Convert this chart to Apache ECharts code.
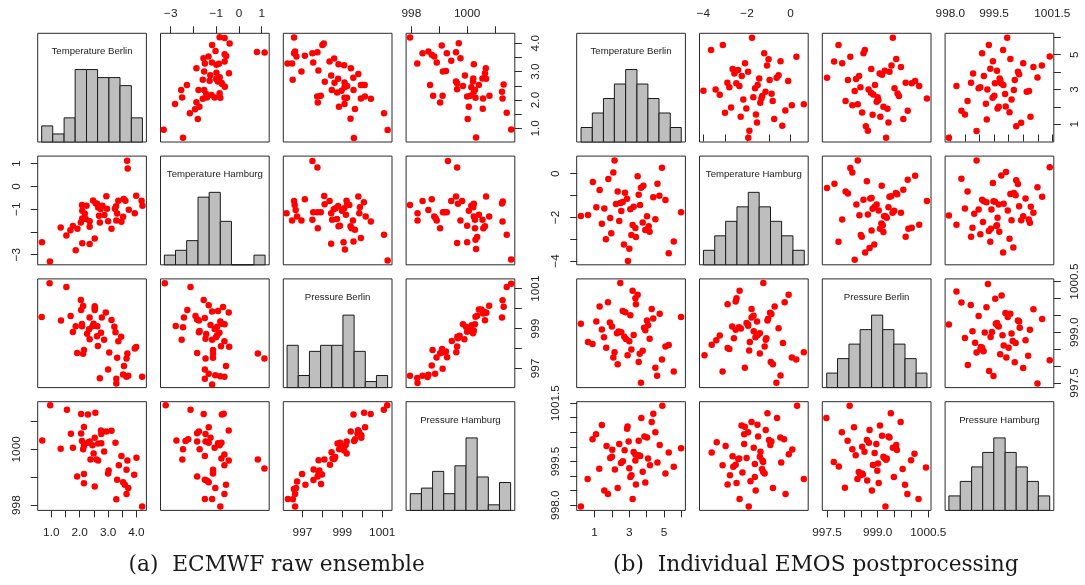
<!DOCTYPE html>
<html>
<head>
<meta charset="utf-8">
<script src="https://cdn.jsdelivr.net/npm/echarts@6/dist/echarts.min.js"></script>
<style>
html,body{margin:0;padding:0;background:#fff;}
#c{width:1085px;height:585px;}
</style>
</head>
<body>
<div id="c"></div>
<script>
// ---------- Variables ----------
const varNames = ['Temperature Berlin', 'Temperature Hamburg', 'Pressure Berlin', 'Pressure Hamburg'];
const captionA = '(a)  ECMWF raw ensemble';
const captionB = '(b)  Individual EMOS postprocessing';

// ---------- (a) ECMWF raw ensemble : scatter pairs [x, y] ----------
// x = Temperature Hamburg, y = Temperature Berlin
const a_TH_TB = [[-0.85,4.21],[-1.18,3.94],[-0.41,3.99],[-0.63,4.18],[-1.03,3.73],[-1.34,3.53],[-1.56,3.47],[-1.50,3.29],[-1.19,3.32],[-0.88,3.28],[-0.99,3.24],[-0.63,3.61],[-0.56,3.55],[-0.63,3.36],[0.79,3.69],[1.13,3.67],[-1.87,3.12],[-1.53,3.00],[-1.26,2.87],[-0.99,2.96],[-0.85,2.80],[-0.44,2.94],[-1.59,2.71],[-1.29,2.68],[-1.00,2.74],[-0.93,2.65],[-0.78,2.62],[-0.74,2.56],[-0.62,2.47],[-2.54,2.35],[-2.29,2.53],[-1.78,2.35],[-1.53,2.35],[-1.44,2.21],[-1.21,2.18],[-1.07,2.09],[-0.85,2.24],[-0.82,2.08],[-1.41,2.09],[-1.59,2.04],[-2.50,2.09],[-1.87,1.92],[-2.81,1.86],[-1.74,1.76],[-1.93,1.67],[-2.16,1.53],[-1.81,1.33],[-3.31,0.95],[-2.46,0.67]];
// x = Pressure Berlin, y = Temperature Berlin
const a_PB_TB = [[996.58,4.2],[996.25,3.29],[996.48,3.29],[996.58,3.65],[996.63,3.71],[996.7,3.53],[996.51,2.71],[996.95,3.0],[997.12,3.56],[997.5,3.65],[997.54,3.32],[997.75,3.68],[998.0,3.94],[998.07,3.99],[997.8,3.04],[997.92,2.15],[997.74,2.12],[997.77,1.91],[998.12,2.64],[998.36,3.36],[998.44,2.86],[998.47,2.35],[998.59,3.46],[998.61,2.61],[998.74,2.26],[998.79,2.75],[998.81,3.26],[998.83,1.76],[998.96,2.33],[999.09,3.22],[999.11,2.62],[999.11,2.45],[999.11,2.08],[999.11,1.86],[999.23,2.08],[999.24,2.49],[999.43,3.12],[999.41,1.34],[999.55,2.78],[999.56,2.35],[999.58,0.66],[999.63,1.68],[999.8,2.92],[999.93,2.05],[999.93,2.53],[1000.02,2.53],[1000.12,2.53],[1000.13,2.12],[1000.43,2.04],[1001.09,1.53],[1001.27,0.94]];
// x = Pressure Hamburg, y = Temperature Berlin
const a_PH_TB = [[997.95,4.2],[998.21,3.29],[998.4,3.65],[998.61,3.71],[998.73,3.59],[998.82,3.53],[998.91,3.32],[998.67,2.53],[999.09,3.92],[999.27,3.65],[999.13,3.0],[999.24,3.02],[998.78,2.15],[999.12,2.15],[999.03,1.91],[999.43,3.38],[999.6,3.68],[999.64,2.38],[999.7,4.0],[999.76,3.47],[999.6,2.65],[999.64,2.59],[999.85,2.49],[999.92,2.86],[1000.0,2.12],[1000.06,1.76],[1000.02,1.33],[1000.12,2.15],[1000.15,2.45],[1000.21,2.65],[1000.24,3.26],[1000.22,2.76],[1000.24,2.29],[1000.28,2.35],[1000.3,2.08],[1000.32,0.68],[1000.42,2.53],[1000.55,2.76],[1000.57,2.05],[1000.56,1.69],[1000.64,2.94],[1000.67,3.12],[1000.68,2.75],[1000.8,2.15],[1001.25,2.29],[1001.27,2.05],[1001.31,2.55],[1001.42,1.55],[1001.58,0.96]];
// x = Pressure Berlin, y = Temperature Hamburg
const a_PB_TH = [[997.5,1.12],[997.75,0.83],[996.2,-1.18],[996.48,-1.5],[996.58,-0.64],[996.61,-0.82],[996.66,-1.04],[996.73,-1.33],[996.95,-1.5],[997.12,-0.57],[997.5,-1.47],[997.54,-1.14],[997.75,-1.14],[997.92,-1.14],[997.77,-1.84],[998.09,-0.43],[998.11,-0.79],[998.36,-0.64],[998.44,-2.52],[998.44,-1.18],[998.49,-1.47],[998.57,-1.01],[998.66,-0.96],[998.73,-1.44],[998.79,-0.86],[998.81,-1.76],[998.88,-1.73],[998.98,-1.07],[999.06,-2.46],[999.09,-0.96],[999.13,-2.78],[999.18,-1.25],[999.21,-0.63],[999.24,-0.75],[999.35,-0.82],[999.41,-1.76],[999.46,-1.84],[999.53,-1.5],[999.56,-2.42],[999.63,-1.91],[999.8,-0.45],[999.85,-1.18],[999.88,-0.92],[999.93,-2.27],[1000.08,-0.7],[1000.17,-1.33],[1000.43,-1.55],[1001.09,-2.13],[1001.27,-3.26]];
// x = Pressure Hamburg, y = Temperature Hamburg
const a_PH_TH = [[997.95,-0.82],[998.22,-1.18],[998.22,-1.5],[998.4,-0.64],[998.61,-1.04],[998.73,-0.57],[998.82,-1.33],[998.87,-1.4],[998.91,-1.5],[999.03,-1.84],[999.13,-1.14],[999.19,-1.14],[999.27,-1.14],[999.31,1.12],[999.43,-0.64],[999.6,-0.45],[999.64,0.83],[999.64,-2.49],[999.67,-0.77],[999.76,-1.5],[999.82,-0.64],[1000.0,-1.73],[1000.0,-2.46],[1000.06,-1.07],[1000.15,-0.85],[1000.22,-0.92],[1000.24,-1.33],[1000.24,-0.77],[1000.28,-1.47],[1000.28,-1.84],[1000.3,-2.35],[1000.32,-2.75],[1000.36,-2.23],[1000.42,-1.25],[1000.55,-1.47],[1000.58,-1.84],[1000.64,-1.76],[1000.68,-0.45],[1000.79,-1.33],[1001.25,-0.75],[1001.28,-0.67],[1001.27,-1.55],[1001.42,-2.13],[1001.58,-3.22]];
// x = Pressure Hamburg, y = Pressure Berlin
const a_PH_PB = [[997.95,996.63],[998.22,996.27],[998.21,996.52],[998.4,996.63],[998.58,996.57],[998.61,996.68],[998.73,997.15],[998.76,997.93],[998.85,996.73],[998.9,997.55],[999.03,997.76],[999.1,997.98],[999.12,996.98],[999.15,997.81],[999.24,997.85],[999.28,997.56],[999.45,998.38],[999.61,997.81],[999.64,998.1],[999.65,998.59],[999.67,998.51],[999.73,998.64],[999.85,999.22],[999.9,998.46],[999.96,999.09],[1000.0,998.84],[1000.06,998.93],[1000.12,999.01],[1000.16,999.17],[1000.21,998.76],[1000.24,998.89],[1000.28,999.22],[1000.3,999.59],[1000.36,999.64],[1000.42,999.95],[1000.51,999.95],[1000.57,999.76],[1000.61,999.84],[1000.64,999.42],[1000.69,999.79],[1000.79,1000.14],[1001.25,999.56],[1001.27,1000.42],[1001.31,1000.09],[1001.42,1001.08],[1001.58,1001.25]];

// (a) histograms: breaks and counts
const a_breaks_TB = [0.66,1.05,1.45,1.84,2.24,2.63,3.03,3.42,3.82,4.21];
const a_counts_TB = [2,1,3,9,9,8,8,7,3];
const a_breaks_TH = [-3.28,-2.79,-2.30,-1.80,-1.31,-0.82,-0.33,0.17,0.66,1.15];
const a_counts_TH = [2,3,5,14,15,9,0,0,2];
const a_breaks_PB = [996.23,996.79,997.35,997.91,998.47,999.03,999.59,1000.15,1000.71,1001.27];
const a_counts_PB = [7,2,6,7,7,12,6,1,2];
const a_breaks_PH = [997.96,998.36,998.76,999.16,999.56,999.96,1000.36,1000.76,1001.16,1001.56];
const a_counts_PH = [3,4,7,3,8,13,6,1,5];

// (a) axis ranges, ticks and labels
const a_range_TB = [0.52, 4.35], a_ticks_TB = [1.0,1.5,2.0,2.5,3.0,3.5,4.0], a_labels_TB = [1.0,2.0,3.0,4.0];
const a_range_TH = [-3.45, 1.33], a_ticks_TH = [-3,-2,-1,0,1], a_labels_TH = [-3,-1,0,1];
const a_range_PB = [996.04, 1001.49], a_ticks_PB = [997,998,999,1000,1001], a_labels_PB = [997,999,1001];
const a_range_PH = [997.81, 1001.71], a_ticks_PH = [998,999,1000,1001], a_labels_PH = [998,1000];

// ---------- (b) Individual EMOS postprocessing ----------
const b_TH_TB = [[-1.77,5.98],[-3.11,5.56],[-3.65,5.27],[-1.21,5.08],[-1.01,4.73],[0.27,4.88],[-0.46,4.62],[-1.08,4.38],[-2.09,4.5],[-2.66,4.17],[-2.55,4.06],[-2.41,4.12],[-1.95,4.02],[-2.58,3.92],[-2.24,3.77],[-2.9,3.38],[-2.49,3.35],[-2.35,3.19],[-2.81,3.12],[-1.44,3.62],[-0.96,3.54],[-0.64,3.67],[-0.55,3.81],[-0.11,3.48],[-1.51,3.25],[-1.63,3.06],[-4.0,2.92],[-3.44,3.0],[-3.25,2.69],[-1.15,2.87],[-0.87,2.75],[-1.3,2.62],[-1.71,2.54],[-1.34,2.48],[-2.17,2.42],[-0.82,2.33],[-1.39,2.23],[-2.73,1.96],[-2.03,1.9],[-3.01,1.65],[0.06,2.08],[-0.24,1.79],[-1.59,1.56],[-2.29,1.42],[-0.75,1.29],[-1.54,1.1],[-0.38,0.9],[-1.89,0.62],[-1.94,0.21],[0.61,2.15]];
const b_PB_TB = [[999.45,5.98],[997.84,5.56],[998.19,4.88],[998.58,5.08],[998.62,5.27],[997.71,4.6],[997.95,4.5],[999.55,4.75],[999.41,4.38],[999.69,4.29],[998.81,4.17],[999.06,3.92],[999.13,3.85],[999.21,4.08],[999.35,4.02],[997.5,3.67],[998.12,3.54],[998.36,3.6],[998.45,3.77],[998.92,3.25],[998.49,3.12],[998.32,2.9],[998.73,3.0],[998.8,2.81],[998.87,2.71],[999.0,2.54],[999.02,2.38],[998.97,2.29],[998.05,2.33],[998.25,2.08],[998.41,2.15],[998.54,1.67],[999.17,2.0],[999.29,1.88],[998.85,1.54],[999.08,1.42],[999.5,3.06],[999.59,2.77],[999.63,2.62],[999.32,1.1],[999.76,1.29],[998.65,0.88],[998.71,0.62],[999.25,0.21],[999.83,3.38],[1000.01,3.35],[1000.11,3.48],[1000.23,3.19],[1000.46,2.48],[999.89,1.77]];
const b_PH_TB = [[997.95,0.21],[998.21,3.19],[998.38,1.77],[998.5,1.56],[998.59,2.33],[998.71,3.38],[998.78,3.92],[998.9,0.6],[998.97,3.06],[999.03,3.12],[999.09,5.08],[999.15,3.77],[999.22,2.17],[999.25,1.27],[999.27,3.0],[999.32,5.56],[999.37,4.19],[999.46,4.62],[999.45,2.52],[999.51,2.63],[999.53,3.35],[999.6,4.08],[999.62,1.9],[999.66,2.0],[999.69,3.63],[999.71,3.54],[999.74,3.35],[999.81,5.27],[999.82,3.25],[999.88,2.73],[999.95,5.98],[1000.03,1.69],[1000.06,4.75],[1000.1,2.42],[1000.18,2.96],[1000.21,3.54],[1000.26,0.88],[1000.32,4.02],[1000.36,3.87],[1000.43,1.08],[1000.5,4.5],[1000.62,2.87],[1000.7,2.9],[1000.75,1.42],[1000.85,4.29],[1000.99,3.69],[1001.14,4.38],[1001.41,4.9],[999.9,2.02]];
const b_PB_TH = [[997.5,-0.65],[997.72,-0.46],[997.84,-3.12],[997.95,-2.1],[998.05,-0.81],[998.12,-0.91],[998.19,0.26],[998.25,0.06],[998.32,-3.95],[998.37,-1.41],[998.41,0.61],[998.46,-1.9],[998.5,-2.81],[998.53,-2.89],[998.58,-1.19],[998.63,-3.62],[998.68,-0.35],[998.71,-1.87],[998.76,-3.41],[998.78,-1.14],[998.82,-2.6],[998.85,-1.61],[998.9,-3.25],[998.91,-1.52],[998.97,-1.41],[999.03,-1.69],[999.07,-2.52],[999.11,-2.28],[999.12,-0.55],[999.15,-2.37],[999.17,-2.68],[999.19,-1.95],[999.23,-1.95],[999.27,-2.02],[999.32,-1.54],[999.35,-1.06],[999.4,-1.03],[999.44,-1.79],[999.49,-1.7],[999.54,-0.88],[999.58,-0.94],[999.69,-1.79],[999.76,-0.73],[999.83,-2.89],[999.89,-0.27],[999.91,-2.52],[1000.01,-2.48],[1000.11,-0.09],[1000.23,-2.34],[1000.46,-1.25],[998.82,-1.11]];
const b_PH_TH = [[997.95,-1.92],[998.21,-2.34],[998.38,-0.23],[998.5,-1.6],[998.59,-0.81],[998.71,-2.89],[998.76,-2.48],[998.82,-1.84],[998.9,0.61],[998.97,-1.64],[999.03,-2.78],[999.09,-1.19],[999.12,-2.21],[999.15,-1.26],[999.24,-1.31],[999.32,-2.63],[999.37,-3.12],[999.39,-2.52],[999.41,-1.64],[999.46,-0.43],[999.48,-1.26],[999.53,-1.29],[999.58,-2.4],[999.6,-2.36],[999.62,-2.02],[999.66,-1.41],[999.68,-2.66],[999.75,-0.08],[999.81,-3.62],[999.83,-1.38],[999.91,0.08],[999.97,-1.69],[1000.03,-2.98],[1000.06,-0.93],[1000.1,-2.13],[1000.16,-3.39],[1000.18,-0.88],[1000.24,-0.99],[1000.26,-0.3],[1000.32,-0.47],[1000.36,-1.49],[1000.43,-2.13],[1000.5,-1.95],[1000.58,-1.14],[1000.69,-2.1],[1000.73,-2.25],[1000.76,-1.52],[1000.85,-1.79],[1000.99,-0.62],[1001.15,-1.06],[1001.41,0.3]];
const b_PH_PB = [[997.95,999.23],[998.21,1000.21],[998.38,999.88],[998.5,998.83],[998.6,998.03],[998.7,999.81],[998.76,999.03],[998.85,998.69],[998.9,998.4],[998.97,999.48],[999.03,998.49],[999.05,998.56],[999.09,998.54],[999.14,998.44],[999.18,998.99],[999.24,999.74],[999.29,1000.43],[999.33,997.85],[999.38,998.86],[999.43,999.01],[999.48,997.7],[999.54,999.99],[999.56,999.25],[999.6,999.27],[999.62,999.2],[999.66,999.17],[999.71,998.35],[999.76,1000.09],[999.79,998.91],[999.83,998.61],[999.89,999.57],[999.92,998.25],[999.97,999.45],[1000.0,998.54],[1000.06,999.55],[1000.1,998.96],[1000.14,998.74],[1000.21,998.11],[1000.24,998.68],[1000.32,999.35],[1000.36,999.32],[1000.38,999.13],[1000.5,997.94],[1000.58,998.76],[1000.67,998.3],[1000.73,999.07],[1000.85,999.68],[1000.99,997.48],[1001.15,999.39],[1001.41,998.17]];

const b_breaks_TB = [0.22,0.87,1.51,2.14,2.79,3.44,4.07,4.71,5.36,5.99];
const b_counts_TB = [1,2,3,4,5,4,3,2,1];
const b_breaks_TH = [-4.0,-3.48,-2.98,-2.46,-1.94,-1.44,-0.92,-0.41,0.11,0.63];
const b_counts_TH = [1,2,3,4,5,4,3,2,1];
const b_breaks_PB = [997.49,997.81,998.15,998.48,998.82,999.15,999.48,999.81,1000.14,1000.46];
const b_counts_PB = [1,2,3,4,5,4,3,2,1];
const b_breaks_PH = [997.95,998.34,998.73,999.11,999.49,999.88,1000.26,1000.64,1001.02,1001.41];
const b_counts_PH = [1,2,3,4,5,4,3,2,1];

const b_range_TB = [-0.03, 6.23], b_ticks_TB = [1,2,3,4,5,6], b_labels_TB = [1,3,5];
const b_range_TH = [-4.18, 0.81], b_ticks_TH = [-4,-3,-2,-1,0], b_labels_TH = [-4,-2,0];
const b_range_PB = [997.36, 1000.58], b_ticks_PB = [997.5,998,998.5,999,999.5,1000,1000.5], b_labels_PB = [997.5,999.0,1000.5];
const b_range_PH = [997.82, 1001.55], b_ticks_PH = [998,998.5,999,999.5,1000,1000.5,1001,1001.5], b_labels_PH = [998.0,999.5,1001.5];

// ---------- layout ----------
const CELL = 108.7, PITCH = 122.8, TOP = 33.3;
const ORIGIN_A = 37.7, ORIGIN_B = 576.7;

const fmtInt = v => (v < 0 ? '\u2212' + Math.abs(v) : String(v));
const fmt1 = v => (v < 0 ? '\u2212' + Math.abs(v).toFixed(1) : v.toFixed(1));

const grids = [], xAxes = [], yAxes = [], series = [], graphics = [];

function histRender(params, api) {
  const p0 = api.coord([api.value(0), 0]);
  const p1 = api.coord([api.value(1), api.value(2)]);
  return {type: 'rect',
    shape: {x: p0[0], y: p1[1], width: p1[0] - p0[0], height: p0[1] - p1[1]},
    style: {fill: '#bebebe', stroke: '#1a1a1a', lineWidth: 1}};
}

function buildMatrix(originX, pairs, ranges, ticks, labels, fmts, breaks, counts) {
  for (let r = 0; r < 4; r++) {
    for (let c = 0; c < 4; c++) {
      const gi = grids.length;
      const left = originX + c * PITCH, top = TOP + r * PITCH;
      grids.push({left: left, top: top, width: CELL, height: CELL, show: true,
        borderColor: '#2a2a2a', borderWidth: 1, backgroundColor: 'transparent', outerBoundsMode: 'none'});
      let xPos = null, yPos = null;
      if (r === 3 && c % 2 === 0) xPos = 'bottom';
      if (r === 0 && c % 2 === 1) xPos = 'top';
      if (c === 0 && r % 2 === 1) yPos = 'left';
      if (c === 3 && r % 2 === 0) yPos = 'right';
      const mkAxis = (isY, pos, v) => {
        const show = pos !== null;
        const margin = isY ? 15 : (pos === 'top' ? 14 : 16);
        const ax = {type: 'value', gridIndex: gi, position: pos || (isY ? 'left' : 'bottom'),
          axisLine: {show: false}, splitLine: {show: false},
          axisTick: {show: show, length: 7, lineStyle: {color: '#2a2a2a', width: 1}},
          axisLabel: {show: show, margin: margin, fontSize: 11.8, color: '#222',
            fontFamily: 'Liberation Sans, Arial, sans-serif', rotate: isY ? 90 : 0}};
        if (v === null) { ax.min = 0; ax.max = 1.5; }
        else {
          ax.min = ranges[v][0]; ax.max = ranges[v][1];
          ax.axisTick.customValues = ticks[v];
          ax.axisLabel.customValues = labels[v];
          ax.axisLabel.formatter = fmts[v];
        }
        return ax;
      };
      xAxes.push(mkAxis(false, xPos, c));
      yAxes.push(mkAxis(true, yPos, r === c ? null : r));
      if (r === c) {
        const b = breaks[r], n = counts[r], mx = Math.max.apply(null, n);
        const bins = n.map((k, i) => [b[i], b[i + 1], k / mx]);
        series.push({type: 'custom', xAxisIndex: gi, yAxisIndex: gi, data: bins,
          renderItem: histRender, encode: {x: [0, 1], y: 2}, silent: true, animation: false});
        graphics.push({type: 'text', x: left + CELL / 2, y: top + 18.4,
          style: {text: varNames[r], align: 'center', verticalAlign: 'middle',
            font: '9.6px "Liberation Sans", Arial, sans-serif', fill: '#222'}, silent: true});
      } else {
        let pts;
        if (r < c) pts = pairs[r + '' + c];
        else pts = pairs[c + '' + r].map(p => [p[1], p[0]]);
        series.push({type: 'scatter', xAxisIndex: gi, yAxisIndex: gi, data: pts,
          symbol: 'circle', symbolSize: 6.5, itemStyle: {color: '#ff0000', opacity: 1},
          silent: true, animation: false});
      }
    }
  }
}

buildMatrix(ORIGIN_A,
  {'01': a_TH_TB, '02': a_PB_TB, '03': a_PH_TB, '12': a_PB_TH, '13': a_PH_TH, '23': a_PH_PB},
  [a_range_TB, a_range_TH, a_range_PB, a_range_PH],
  [a_ticks_TB, a_ticks_TH, a_ticks_PB, a_ticks_PH],
  [a_labels_TB, a_labels_TH, a_labels_PB, a_labels_PH],
  [fmt1, fmtInt, fmtInt, fmtInt],
  [a_breaks_TB, a_breaks_TH, a_breaks_PB, a_breaks_PH],
  [a_counts_TB, a_counts_TH, a_counts_PB, a_counts_PH]);

buildMatrix(ORIGIN_B,
  {'01': b_TH_TB, '02': b_PB_TB, '03': b_PH_TB, '12': b_PB_TH, '13': b_PH_TH, '23': b_PH_PB},
  [b_range_TB, b_range_TH, b_range_PB, b_range_PH],
  [b_ticks_TB, b_ticks_TH, b_ticks_PB, b_ticks_PH],
  [b_labels_TB, b_labels_TH, b_labels_PB, b_labels_PH],
  [fmtInt, fmtInt, fmt1, fmt1],
  [b_breaks_TB, b_breaks_TH, b_breaks_PB, b_breaks_PH],
  [b_counts_TB, b_counts_TH, b_counts_PB, b_counts_PH]);

graphics.push({type: 'text', x: 276.7, y: 565.5, style: {text: captionA, align: 'center', verticalAlign: 'middle',
  font: '21.7px "DejaVu Serif", serif', fill: '#1a1a1a'}, silent: true});
graphics.push({type: 'text', x: 815.8, y: 565.5, style: {text: captionB, align: 'center', verticalAlign: 'middle',
  font: '21.7px "DejaVu Serif", serif', fill: '#1a1a1a'}, silent: true});

const chart = echarts.init(document.getElementById('c'), null, {renderer: 'canvas'});
chart.setOption({
  animation: false,
  backgroundColor: '#ffffff',
  grid: grids, xAxis: xAxes, yAxis: yAxes, series: series,
  graphic: {elements: graphics}
});
</script>
</body>
</html>
